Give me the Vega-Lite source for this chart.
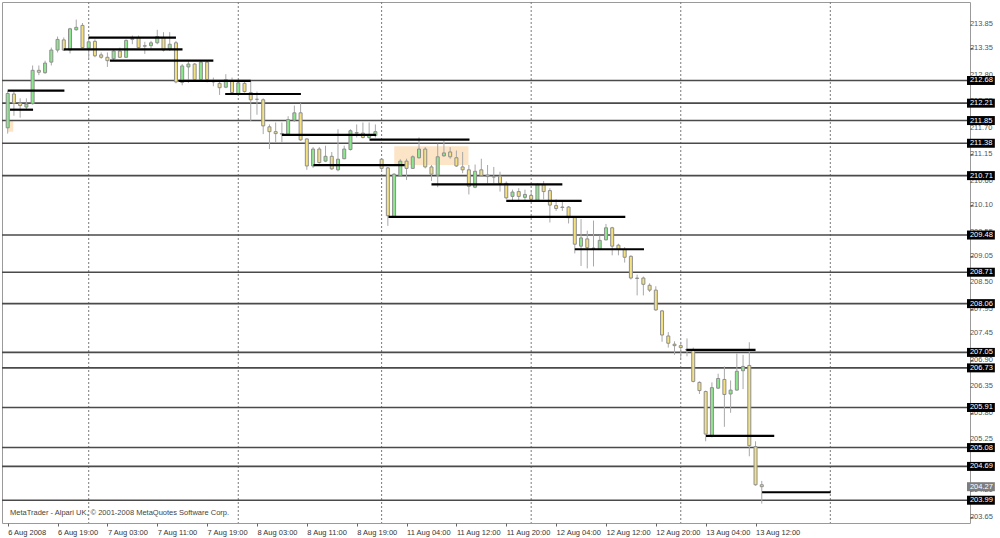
{
  "$schema": "https://vega.github.io/schema/vega-lite/v6.json",
  "width": 968,
  "height": 521,
  "autosize": {"type": "none"},
  "padding": {"left": 2, "top": 2, "right": 30, "bottom": 15},
  "background": "white",
  "config": {
    "view": {"stroke": "#9a9a9a", "strokeWidth": 1},
    "font": "Liberation Sans",
    "axis": {"labelFont": "Liberation Sans", "labelFontSize": 7.5, "grid": false, "domain": false, "tickSize": 3, "tickColor": "#666", "labelOverlap": false, "labelBound": false, "labelFlush": false}
  },
  "datasets": {
    "candles": [
      {"i":0,"o":211.70,"h":212.46,"l":211.58,"c":212.41},
      {"i":1,"o":212.40,"h":212.46,"l":211.95,"c":212.21},
      {"i":2,"o":212.21,"h":212.31,"l":211.91,"c":212.16},
      {"i":3,"o":212.13,"h":212.31,"l":212.07,"c":212.19},
      {"i":4,"o":212.20,"h":212.99,"l":212.18,"c":212.89},
      {"i":5,"o":212.89,"h":212.99,"l":212.79,"c":212.85},
      {"i":6,"o":212.84,"h":213.09,"l":212.82,"c":213.04},
      {"i":7,"o":213.06,"h":213.36,"l":212.99,"c":213.31},
      {"i":8,"o":213.31,"h":213.59,"l":213.26,"c":213.53},
      {"i":9,"o":213.52,"h":213.57,"l":213.29,"c":213.31},
      {"i":10,"o":213.31,"h":213.77,"l":213.24,"c":213.75},
      {"i":11,"o":213.73,"h":213.94,"l":213.71,"c":213.78},
      {"i":12,"o":213.82,"h":213.87,"l":213.35,"c":213.36},
      {"i":13,"o":213.35,"h":213.53,"l":213.13,"c":213.48},
      {"i":14,"o":213.49,"h":213.53,"l":213.16,"c":213.19},
      {"i":15,"o":213.21,"h":213.26,"l":213.13,"c":213.16},
      {"i":16,"o":213.16,"h":213.26,"l":212.96,"c":213.09},
      {"i":17,"o":213.13,"h":213.33,"l":213.09,"c":213.29},
      {"i":18,"o":213.29,"h":213.36,"l":213.15,"c":213.16},
      {"i":19,"o":213.16,"h":213.53,"l":213.15,"c":213.51},
      {"i":20,"o":213.55,"h":213.61,"l":213.43,"c":213.53},
      {"i":21,"o":213.57,"h":213.61,"l":213.34,"c":213.36},
      {"i":22,"o":213.40,"h":213.48,"l":213.23,"c":213.39},
      {"i":23,"o":213.40,"h":213.50,"l":213.34,"c":213.46},
      {"i":24,"o":213.46,"h":213.73,"l":213.43,"c":213.59},
      {"i":25,"o":213.57,"h":213.68,"l":213.28,"c":213.31},
      {"i":26,"o":213.33,"h":213.68,"l":213.29,"c":213.43},
      {"i":27,"o":213.46,"h":213.50,"l":212.62,"c":212.65},
      {"i":28,"o":212.64,"h":213.02,"l":212.58,"c":212.98},
      {"i":29,"o":212.96,"h":213.08,"l":212.63,"c":213.02},
      {"i":30,"o":213.02,"h":213.04,"l":212.65,"c":212.70},
      {"i":31,"o":212.70,"h":213.09,"l":212.65,"c":213.06},
      {"i":32,"o":213.06,"h":213.09,"l":212.64,"c":212.70},
      {"i":33,"o":212.68,"h":212.74,"l":212.56,"c":212.65},
      {"i":34,"o":212.62,"h":212.68,"l":212.38,"c":212.53},
      {"i":35,"o":212.54,"h":212.81,"l":212.52,"c":212.70},
      {"i":36,"o":212.68,"h":212.74,"l":212.41,"c":212.43},
      {"i":37,"o":212.41,"h":212.68,"l":212.40,"c":212.63},
      {"i":38,"o":212.62,"h":212.65,"l":212.43,"c":212.45},
      {"i":39,"o":212.43,"h":212.68,"l":211.84,"c":212.28},
      {"i":40,"o":212.29,"h":212.45,"l":211.97,"c":212.29},
      {"i":41,"o":212.28,"h":212.31,"l":211.57,"c":211.74},
      {"i":42,"o":211.72,"h":211.77,"l":211.26,"c":211.62},
      {"i":43,"o":211.62,"h":211.81,"l":211.40,"c":211.58},
      {"i":44,"o":211.58,"h":211.81,"l":211.40,"c":211.57},
      {"i":45,"o":211.57,"h":211.94,"l":211.54,"c":211.87},
      {"i":46,"o":211.86,"h":212.16,"l":211.82,"c":212.01},
      {"i":47,"o":212.01,"h":212.21,"l":211.43,"c":211.45},
      {"i":48,"o":211.47,"h":211.48,"l":210.83,"c":210.91},
      {"i":49,"o":210.91,"h":211.30,"l":210.87,"c":211.26},
      {"i":50,"o":211.26,"h":211.30,"l":210.96,"c":210.98},
      {"i":51,"o":211.01,"h":211.33,"l":210.99,"c":211.11},
      {"i":52,"o":211.11,"h":211.20,"l":210.83,"c":210.85},
      {"i":53,"o":210.83,"h":211.67,"l":210.80,"c":211.05},
      {"i":54,"o":211.06,"h":211.33,"l":211.05,"c":211.26},
      {"i":55,"o":211.25,"h":211.67,"l":211.23,"c":211.64},
      {"i":56,"o":211.60,"h":211.77,"l":211.50,"c":211.59},
      {"i":57,"o":211.59,"h":211.81,"l":211.48,"c":211.50},
      {"i":58,"o":211.50,"h":211.81,"l":211.47,"c":211.55},
      {"i":59,"o":211.54,"h":211.77,"l":211.50,"c":211.62},
      {"i":60,"o":211.05,"h":211.06,"l":210.79,"c":210.86},
      {"i":61,"o":210.87,"h":210.89,"l":209.67,"c":209.88},
      {"i":62,"o":209.86,"h":210.76,"l":209.84,"c":210.74},
      {"i":63,"o":210.71,"h":211.05,"l":210.69,"c":211.01},
      {"i":64,"o":211.01,"h":211.06,"l":210.62,"c":210.86},
      {"i":65,"o":210.86,"h":211.13,"l":210.85,"c":211.10},
      {"i":66,"o":211.08,"h":211.50,"l":211.06,"c":211.26},
      {"i":67,"o":211.26,"h":211.30,"l":210.86,"c":210.89},
      {"i":68,"o":210.89,"h":210.93,"l":210.60,"c":210.74},
      {"i":69,"o":210.72,"h":211.37,"l":210.47,"c":211.10},
      {"i":70,"o":211.12,"h":211.43,"l":211.10,"c":211.18},
      {"i":71,"o":211.20,"h":211.30,"l":211.06,"c":211.10},
      {"i":72,"o":211.08,"h":211.23,"l":210.89,"c":210.91},
      {"i":73,"o":210.89,"h":211.20,"l":210.76,"c":210.83},
      {"i":74,"o":210.83,"h":210.93,"l":210.32,"c":210.49},
      {"i":75,"o":210.47,"h":210.94,"l":210.45,"c":210.80},
      {"i":76,"o":210.83,"h":211.06,"l":210.69,"c":210.71},
      {"i":77,"o":210.72,"h":210.93,"l":210.55,"c":210.69},
      {"i":78,"o":210.69,"h":210.89,"l":210.55,"c":210.68},
      {"i":79,"o":210.70,"h":210.79,"l":210.38,"c":210.55},
      {"i":80,"o":210.55,"h":210.59,"l":210.22,"c":210.25},
      {"i":81,"o":210.28,"h":210.42,"l":210.18,"c":210.37},
      {"i":82,"o":210.38,"h":210.45,"l":210.18,"c":210.28},
      {"i":83,"o":210.26,"h":210.42,"l":210.18,"c":210.32},
      {"i":84,"o":210.30,"h":210.38,"l":210.18,"c":210.22},
      {"i":85,"o":210.20,"h":210.55,"l":210.18,"c":210.53},
      {"i":86,"o":210.52,"h":210.60,"l":210.22,"c":210.38},
      {"i":87,"o":210.40,"h":210.45,"l":209.74,"c":210.10},
      {"i":88,"o":210.09,"h":210.22,"l":209.98,"c":210.03},
      {"i":89,"o":210.06,"h":210.17,"l":209.98,"c":210.05},
      {"i":90,"o":210.06,"h":210.08,"l":209.72,"c":209.84},
      {"i":91,"o":209.84,"h":209.86,"l":209.10,"c":209.29},
      {"i":92,"o":209.25,"h":209.81,"l":208.84,"c":209.42},
      {"i":93,"o":209.40,"h":209.57,"l":208.79,"c":209.22},
      {"i":94,"o":209.21,"h":209.78,"l":208.83,"c":209.20},
      {"i":95,"o":209.18,"h":209.47,"l":209.17,"c":209.37},
      {"i":96,"o":209.38,"h":209.71,"l":209.37,"c":209.63},
      {"i":97,"o":209.63,"h":209.65,"l":209.06,"c":209.25},
      {"i":98,"o":209.27,"h":209.30,"l":209.06,"c":209.18},
      {"i":99,"o":209.18,"h":209.23,"l":208.91,"c":209.02},
      {"i":100,"o":209.04,"h":209.06,"l":208.56,"c":208.59},
      {"i":101,"o":208.59,"h":208.66,"l":208.23,"c":208.58},
      {"i":102,"o":208.59,"h":208.62,"l":208.23,"c":208.46},
      {"i":103,"o":208.44,"h":208.48,"l":208.30,"c":208.34},
      {"i":104,"o":208.34,"h":208.42,"l":207.91,"c":207.93},
      {"i":105,"o":207.91,"h":207.93,"l":207.27,"c":207.41},
      {"i":106,"o":207.39,"h":207.47,"l":207.15,"c":207.24},
      {"i":107,"o":207.22,"h":207.28,"l":207.00,"c":207.19},
      {"i":108,"o":207.19,"h":207.27,"l":206.93,"c":207.15},
      {"i":109,"o":207.11,"h":207.34,"l":206.97,"c":207.10},
      {"i":110,"o":207.10,"h":207.15,"l":206.43,"c":206.45},
      {"i":111,"o":206.43,"h":206.45,"l":206.19,"c":206.26},
      {"i":112,"o":206.24,"h":206.26,"l":205.21,"c":205.36},
      {"i":113,"o":205.31,"h":206.43,"l":205.29,"c":206.32},
      {"i":114,"o":206.31,"h":206.61,"l":206.29,"c":206.51},
      {"i":115,"o":206.49,"h":206.76,"l":205.51,"c":206.18},
      {"i":116,"o":206.19,"h":206.47,"l":205.80,"c":206.27},
      {"i":117,"o":206.27,"h":207.03,"l":206.26,"c":206.66},
      {"i":118,"o":206.67,"h":207.00,"l":206.29,"c":206.76},
      {"i":119,"o":206.78,"h":207.26,"l":204.90,"c":205.12},
      {"i":120,"o":205.10,"h":205.21,"l":204.29,"c":204.31},
      {"i":121,"o":204.31,"h":204.39,"l":203.92,"c":204.27}
    ],
    "levels": [
      {"p":212.68},{"p":212.21},{"p":211.85},{"p":211.38},{"p":210.71},{"p":209.48},{"p":208.71},
      {"p":208.06},{"p":207.05},{"p":206.73},{"p":205.91},{"p":205.08},{"p":204.69},{"p":203.99}
    ],
    "current": [{"p":204.27}],
    "yticks": [
      {"v":213.85},{"v":213.35},{"v":212.80},{"v":212.25},{"v":211.70},{"v":211.15},{"v":210.60},
      {"v":210.10},{"v":209.55},{"v":209.05},{"v":208.50},{"v":207.95},{"v":207.45},{"v":206.90},
      {"v":206.35},{"v":205.80},{"v":205.25},{"v":204.70},{"v":204.20},{"v":203.65}
    ],
    "segments": [
      {"s":0,"e":9.1,"p":212.47},
      {"s":0.37,"e":4.07,"p":212.075},
      {"s":12.96,"e":27.0,"p":213.566},
      {"s":9.0,"e":28.05,"p":213.322},
      {"s":16.4,"e":33.0,"p":213.091},
      {"s":27.4,"e":39.0,"p":212.672},
      {"s":34.9,"e":47.05,"p":212.40},
      {"s":44.0,"e":59.1,"p":211.552},
      {"s":58.06,"e":74.1,"p":211.454},
      {"s":49.07,"e":63.7,"p":210.926},
      {"s":68.0,"e":89.0,"p":210.528},
      {"s":80.0,"e":92.1,"p":210.189},
      {"s":61.1,"e":99.1,"p":209.856},
      {"s":91.0,"e":102.1,"p":209.186},
      {"s":108.9,"e":120.0,"p":207.101},
      {"s":112.05,"e":123.0,"p":205.322},
      {"s":121.05,"e":132.06,"p":204.155}
    ],
    "zones": [
      {"a":62.03,"b":73.94,"p1":211.318,"p2":210.932},
      {"a":0.05,"b":0.89,"p1":211.84,"p2":211.617}
    ],
    "days": [{"d":13},{"d":37},{"d":60},{"d":84},{"d":108},{"d":132}],
    "credit": [{"t":"MetaTrader - Alpari UK, © 2001-2008 MetaQuotes Software Corp."}]
  },
  "layer": [
    {
      "data": {"name": "zones"},
      "mark": {"type": "rect", "color": "#FCE4C6"},
      "encoding": {
        "x": {"field": "a", "type": "quantitative", "title": null,
          "scale": {"domain": [-0.111, 153.61], "nice": false, "zero": false},
          "axis": {
            "orient": "bottom",
            "values": [0,8,16,24,32,40,48,56,64,72,80,88,96,104,112,120],
            "labelExpr": "['6 Aug 2008','6 Aug 19:00','7 Aug 03:00','7 Aug 11:00','7 Aug 19:00','8 Aug 03:00','8 Aug 11:00','8 Aug 19:00','11 Aug 04:00','11 Aug 12:00','11 Aug 20:00','12 Aug 04:00','12 Aug 12:00','12 Aug 20:00','13 Aug 04:00','13 Aug 12:00'][round(datum.value/8)]",
            "labelAlign": "left",
            "labelPadding": 2,
            "labelColor": "#333",
            "labelOverlap": false,
            "labelBound": false,
            "labelFlush": false,
            "tickSize": 3,
            "title": null
          }
        },
        "x2": {"field": "b"},
        "y": {"field": "p1", "type": "quantitative", "title": null,
          "scale": {"domain": [203.622, 214.201], "nice": false, "zero": false},
          "axis": {
            "orient": "right",
            "values": [213.85,213.35,212.80,212.25,211.70,211.15,210.60,210.10,209.55,209.05,208.50,207.95,207.45,206.90,206.35,205.80,205.25,204.70,204.20,203.65],
            "labels": false,
            "tickSize": 3,
            "title": null
          }
        },
        "y2": {"field": "p2"}
      }
    },
    {
      "data": {"name": "days"},
      "mark": {"type": "rule", "color": "#7a7a7a", "strokeDash": [2, 2], "strokeWidth": 1},
      "encoding": {
        "x": {"field": "d", "type": "quantitative", "title": null}
      }
    },
    {
      "data": {"name": "levels"},
      "mark": {"type": "rule", "color": "#4a4a4a", "strokeWidth": 1.6},
      "encoding": {
        "y": {"field": "p", "type": "quantitative", "title": null}
      }
    },
    {
      "data": {"name": "candles"},
      "mark": {"type": "rule", "color": "#a8a8a8", "strokeWidth": 1},
      "encoding": {
        "x": {"field": "i", "type": "quantitative", "title": null},
        "y": {"field": "l", "type": "quantitative", "title": null},
        "y2": {"field": "h"}
      }
    },
    {
      "data": {"name": "candles"},
      "mark": {"type": "bar", "size": 3, "stroke": "#8e8e8e", "strokeWidth": 1, "orient": "vertical"},
      "encoding": {
        "x": {"field": "i", "type": "quantitative", "title": null},
        "y": {"field": "o", "type": "quantitative", "title": null},
        "y2": {"field": "c"},
        "fill": {"condition": {"test": "datum.c >= datum.o", "value": "#8EE68E"}, "value": "#F3E182"}
      }
    },
    {
      "data": {"name": "segments"},
      "mark": {"type": "rule", "color": "#000000", "strokeWidth": 2.2},
      "encoding": {
        "x": {"field": "s", "type": "quantitative", "title": null},
        "x2": {"field": "e"},
        "y": {"field": "p", "type": "quantitative", "title": null}
      }
    },
    {
      "data": {"name": "credit"},
      "mark": {"type": "text", "align": "left", "baseline": "middle", "fontSize": 7.5, "color": "#444", "font": "Liberation Sans"},
      "encoding": {
        "x": {"datum": 0.37, "type": "quantitative"},
        "y": {"datum": 203.724, "type": "quantitative"},
        "text": {"field": "t"}
      }
    },
    {
      "data": {"name": "yticks"},
      "mark": {"type": "text", "align": "left", "baseline": "middle", "fontSize": 7.5, "color": "#555", "font": "Liberation Sans"},
      "encoding": {
        "x": {"datum": 154.4, "type": "quantitative"},
        "y": {"field": "v", "type": "quantitative", "title": null},
        "text": {"field": "v", "type": "quantitative", "format": ".2f"}
      }
    },
    {
      "data": {"name": "levels"},
      "mark": {"type": "bar", "orient": "horizontal", "size": 9, "color": "#000000"},
      "encoding": {
        "x": {"datum": 153.93, "type": "quantitative"},
        "x2": {"datum": 158.4},
        "y": {"field": "p", "type": "quantitative", "title": null}
      }
    },
    {
      "data": {"name": "current"},
      "mark": {"type": "bar", "orient": "horizontal", "size": 9, "color": "#7d7d7d"},
      "encoding": {
        "x": {"datum": 153.93, "type": "quantitative"},
        "x2": {"datum": 158.4},
        "y": {"field": "p", "type": "quantitative", "title": null}
      }
    },
    {
      "data": {"name": "levels"},
      "mark": {"type": "text", "align": "left", "baseline": "middle", "fontSize": 7.5, "color": "#ffffff", "font": "Liberation Sans"},
      "encoding": {
        "x": {"datum": 154.4, "type": "quantitative"},
        "y": {"field": "p", "type": "quantitative", "title": null},
        "text": {"field": "p", "type": "quantitative", "format": ".2f"}
      }
    },
    {
      "data": {"name": "current"},
      "mark": {"type": "text", "align": "left", "baseline": "middle", "fontSize": 7.5, "color": "#ffffff", "font": "Liberation Sans"},
      "encoding": {
        "x": {"datum": 154.4, "type": "quantitative"},
        "y": {"field": "p", "type": "quantitative", "title": null},
        "text": {"field": "p", "type": "quantitative", "format": ".2f"}
      }
    }
  ]
}
